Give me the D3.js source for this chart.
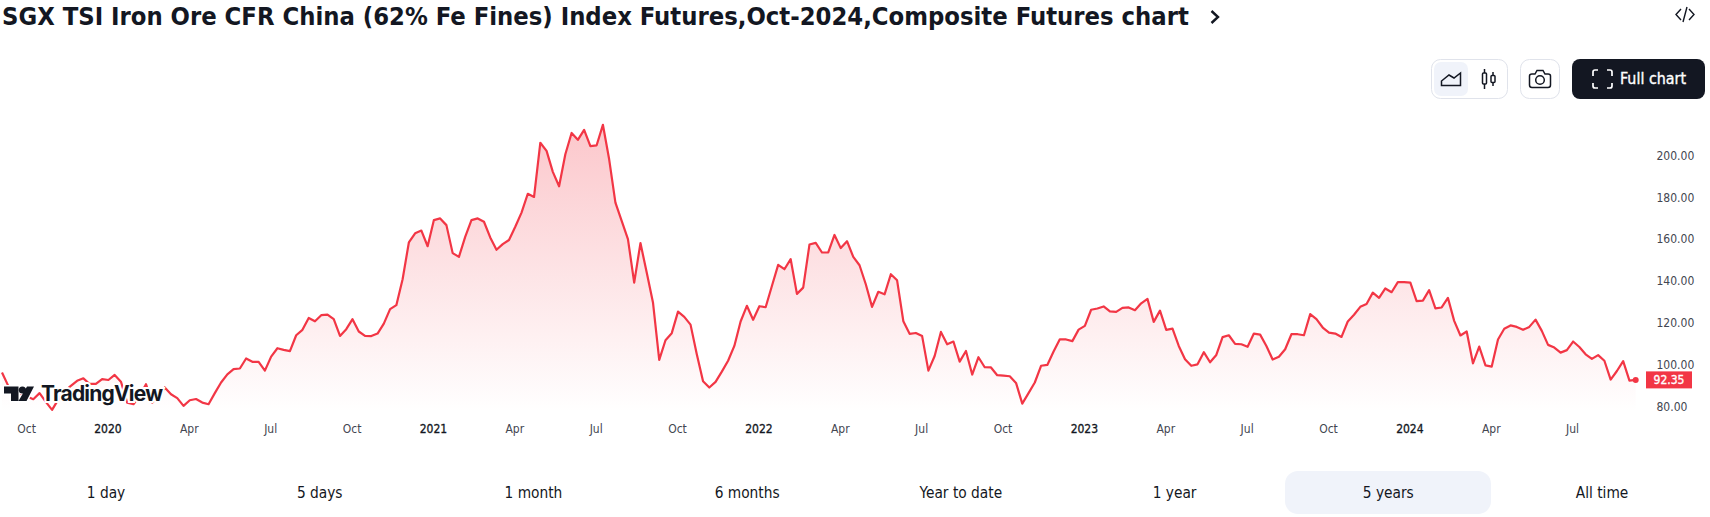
<!DOCTYPE html>
<html><head><meta charset="utf-8">
<script src="https://cdn.jsdelivr.net/npm/d3@7"></script>
<style>
html,body{margin:0;padding:0;background:#fff;overflow:hidden}
svg{display:block}
</style></head><body><svg id="c" width="1710" height="517"></svg>
<script>
const title = "SGX TSI Iron Ore CFR China (62% Fe Fines) Index Futures,Oct-2024,Composite Futures chart";
const startDate = "2019-09-06";
const weeklyValues = [
95.9,89.5,87,85.5,84.4,83.1,86,81.8,78,83,87,89.5,91.9,93.1,90.4,90.4,92.7,92.3,94.7,91.5,
81.5,80.7,84.7,90.3,81.5,83.9,88.7,85.5,83.6,79.9,82.6,83.2,81.5,80.7,86,91.1,95,97.5,97.8,102.6,
101,101,96.8,103.5,107.5,106.7,106.1,113.7,116.3,122,120.4,123.3,123.6,121.4,113.4,116.6,121.4,115.5,113.4,113.3,
114.5,119.3,126.2,128.1,140.5,158.1,162.5,163.8,156.3,168.8,169.6,166.4,153,151.2,160.8,168.8,169.6,168,160.5,154.6,
157.3,159.3,165.6,172.4,181.4,179.9,205.8,201.9,191.9,185,200.3,210.5,207.2,212,204.2,204.6,214.4,197.9,177.2,168.4,
159.7,138.9,157.8,143.7,129.4,101.9,111.3,114.7,125,122.5,118.8,104.6,91.7,88.7,91.4,96.3,101.5,108.6,120.3,127.8,
121.1,127.6,127.1,137.3,147.4,145.3,150.1,133.5,136.5,157.1,157.9,153.3,153.4,161.7,155.4,158.7,151.2,147.2,138.1,127.3,
134.5,133.3,142.9,140,120.4,114.4,114.8,113.3,96.8,103.8,115.3,109.4,110.7,101.1,106.2,94.9,103.2,98.4,98.3,94.6,
94.4,94.1,90.9,81,86,91.1,99.1,99.5,105.9,111.8,111.7,110.9,116.4,118.2,125.9,126.5,127.5,125.1,124.9,126.8,
127,125.7,129,131.1,120.1,125.5,116.3,116.9,108.6,102.2,99.1,99.8,105.6,100.8,104.3,112.8,113.7,109.6,109.4,108.2,
114.5,114,108.6,102.1,103.4,107,114.2,114.2,113.7,123.8,121.4,117.4,115,114.5,112.9,120.3,123.5,127.3,128.7,134.1,
131.6,136.1,134.3,139.1,139.1,138.9,130,130.3,135.3,126.6,127,131.6,120.6,113.6,115.5,100.3,108.3,99.3,98.7,111.7,
116.8,118.4,117.7,116.3,117.7,121.2,115.8,109.1,107.8,105.4,106.6,110.7,108.1,104.6,102.4,104.2,101.5,92.5,96.6,101.3,
92,92.35];
const lastLabel = "92.35";
const priceTicks = [80,100,120,140,160,180,200];
const timeTickDates = ["2019-10-04","2020-01-03","2020-04-03","2020-07-03","2020-10-02","2021-01-01","2021-04-02","2021-07-02","2021-10-01","2021-12-31","2022-04-01","2022-07-01","2022-09-30","2022-12-30","2023-03-31","2023-06-30","2023-09-29","2023-12-29","2024-03-29","2024-06-28"];
const timeTickLabels = ["Oct","2020","Apr","Jul","Oct","2021","Apr","Jul","Oct","2022","Apr","Jul","Oct","2023","Apr","Jul","Oct","2024","Apr","Jul"];
const ranges = ["1 day","5 days","1 month","6 months","Year to date","1 year","5 years","All time"];
const activeRange = "5 years";

const RED="#F23645", INK="#131722", UI="'DejaVu Sans Condensed','DejaVu Sans',sans-serif";
const svg=d3.select("#c");
const t0=new Date(startDate+"T00:00:00Z");
const dates=weeklyValues.map((_,i)=>d3.utcDay.offset(t0,i*7));
const x=d3.scaleUtc().domain([dates[0],dates[dates.length-1]]).range([2,1635.7]);
const y=d3.scaleLinear().domain([80,200]).range([405.7,154.9]);
const data=dates.map((d,i)=>({d,v:weeklyValues[i]}));

const defs=svg.append("defs");
const g=defs.append("linearGradient").attr("id","fill").attr("gradientUnits","userSpaceOnUse")
 .attr("x1",0).attr("x2",0).attr("y1",y(214.4)).attr("y2",412);
g.append("stop").attr("offset",0).attr("stop-color",RED).attr("stop-opacity",.28);
g.append("stop").attr("offset",1).attr("stop-color",RED).attr("stop-opacity",0);

svg.append("path").datum(data).attr("fill","url(#fill)")
 .attr("d",d3.area().x(d=>x(d.d)).y0(412).y1(d=>y(d.v)));
svg.append("path").datum(data).attr("fill","none").attr("stroke",RED).attr("stroke-width",2.2)
 .attr("stroke-linejoin","round").attr("d",d3.line().x(d=>x(d.d)).y(d=>y(d.v)));
const last=data[data.length-1];
svg.append("circle").attr("cx",x(last.d)).attr("cy",y(last.v)).attr("r",3).attr("fill",RED);

// price axis
const ya=svg.append("g").attr("transform","translate(1656.5,0.6)")
 .call(d3.axisRight(y).tickValues(priceTicks).tickSize(0).tickPadding(0).tickFormat(d3.format(".2f")));
ya.select(".domain").remove();
ya.selectAll("text").attr("font-family",UI).attr("font-size",12).attr("fill","#434651");

const by=y(last.v);
svg.append("rect").attr("x",1646).attr("y",by-8.5).attr("width",46).attr("height",17).attr("fill",RED);
svg.append("text").attr("x",1669).attr("y",by+4).attr("text-anchor","middle").attr("font-family",UI)
 .attr("stroke","#fff").attr("stroke-width",0.35).attr("font-size",12).attr("fill","#fff").text(lastLabel);

// time axis
const tickDates=timeTickDates.map(s=>new Date(s+"T00:00:00Z"));
const xa=svg.append("g").attr("transform","translate(-1,429)")
 .call(d3.axisBottom(x).tickValues(tickDates).tickSize(0).tickPadding(0)
 .tickFormat((d,i)=>timeTickLabels[i]));
xa.select(".domain").remove();
xa.selectAll("text").attr("font-family",UI).attr("font-size",12).attr("dy","0.32em").attr("fill","#434651");
xa.selectAll("text").filter((d,i)=>/^\d/.test(timeTickLabels[i])).attr("fill","#131722").attr("stroke","#131722").attr("stroke-width",0.3);

// watermark
const wm=svg.append("g");
wm.append("path").attr("d","M4 386.5H18.5V401H11V393.5H4Z M27 386.5H34L26.5 401H18.5Z M26 390A3.6 3.6 0 1 1 18.8 390A3.6 3.6 0 1 1 26 390Z")
 .attr("fill",INK).attr("stroke","#fff").attr("stroke-width",3).attr("paint-order","stroke");
wm.append("text").attr("x",41).attr("y",400.5).attr("font-family","Inter").attr("font-weight",700)
 .attr("font-size",21).attr("letter-spacing",-0.8).attr("fill",INK).attr("stroke","#fff").attr("stroke-width",4)
 .attr("paint-order","stroke").text("TradingView");

// title
svg.append("text").attr("x",2).attr("y",24.5).attr("font-family",UI).attr("font-weight",700).attr("font-size",25.35)
 .attr("fill",INK).text(title);
svg.append("path").attr("d","M1211.5 11L1218 17L1211.5 23").attr("fill","none").attr("stroke",INK).attr("stroke-width",2.4);

// embed icon
svg.append("path").attr("d","M1681 9L1676 14.5L1681 20 M1689 9L1694 14.5L1689 20 M1687 7L1683 22").attr("fill","none").attr("stroke",INK).attr("stroke-width",1.4);

// toolbar
const box=(x0,y0,w,h,r,fill,stroke)=>svg.append("rect").attr("x",x0).attr("y",y0).attr("width",w).attr("height",h).attr("rx",r).attr("fill",fill).attr("stroke",stroke||"none");
box(1431.5,59.5,76,39,9,"#fff","#E0E3EB");
box(1434,62,34,34,7,"#F0F3FA");
box(1520.5,59.5,39,39,9,"#fff","#E0E3EB");
box(1572,59,133,40,8,INK);
const ic=svg.append("g").attr("fill","none").attr("stroke",INK).attr("stroke-width",1.5);
ic.append("path").attr("d","M1441.5 85.5H1460.5V73L1454 78L1449 75L1441.5 81Z");
ic.append("path").attr("d","M1484.5 69V89 M1493 72V86");
ic.append("rect").attr("x",1482.5).attr("y",73).attr("width",4).attr("height",11).attr("rx",1).attr("fill","#fff");
ic.append("rect").attr("x",1491).attr("y",75.5).attr("width",4).attr("height",7).attr("rx",1).attr("fill","#fff");
ic.append("path").attr("d","M1532 74H1535L1537 70.5H1543L1545 74H1548Q1550.5 74 1550.5 76V85Q1550.5 87.5 1548 87.5H1532Q1529.5 87.5 1529.5 85V76Q1529.5 74 1532 74Z");
ic.append("circle").attr("cx",1540).attr("cy",80).attr("r",4.3);
svg.append("path").attr("fill","none").attr("stroke","#fff").attr("stroke-width",1.7)
 .attr("d","M1593 76V72Q1593 70 1595 70H1598 M1607 70H1610Q1612 70 1612 72V76 M1612 83V86Q1612 88 1610 88H1607 M1598 88H1595Q1593 88 1593 86V83");
svg.append("text").attr("x",1620).attr("y",84).attr("font-family",UI).attr("font-size",15.9).attr("fill","#fff").attr("stroke","#fff").attr("stroke-width",0.35).text("Full chart");

// range tabs
const tabs=d3.scalePoint().domain(ranges).range([106,1602]);
box(1285,471,206,43,13,"#F0F3FA");
svg.append("g").selectAll("text").data(ranges).join("text").attr("x",d=>tabs(d)).attr("y",498)
 .attr("text-anchor","middle").attr("font-family",UI).attr("font-size",15.3).attr("fill",INK).text(d=>d);
</script></body></html>
